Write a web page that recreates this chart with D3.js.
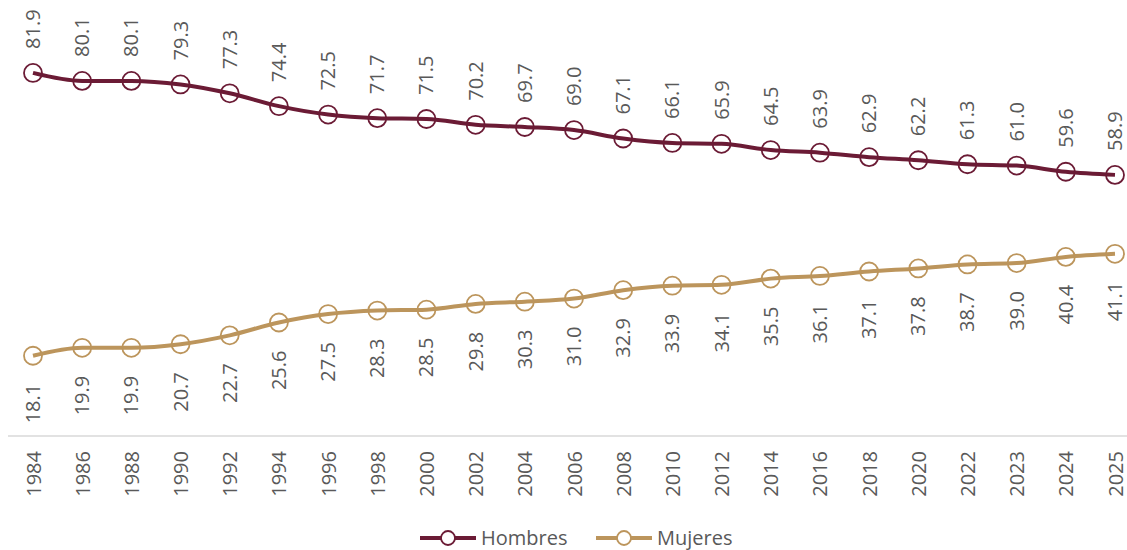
<!DOCTYPE html>
<html>
<head>
<meta charset="utf-8">
<script src="https://cdn.jsdelivr.net/npm/d3@7"></script>
<style>
  body { margin: 0; background: #fff; }
  svg { display: block; font-family: "Open Sans", sans-serif; }
</style>
</head>
<body>
<div id="chart"></div>
<script>
let years = ["1984", "1986", "1988", "1990", "1992", "1994", "1996", "1998", "2000", "2002", "2004", "2006",
    "2008", "2010", "2012", "2014", "2016", "2018", "2020", "2022", "2023", "2024", "2025"];
let hombres = [81.9, 80.1, 80.1, 79.3, 77.3, 74.4, 72.5, 71.7, 71.5, 70.2, 69.7, 69.0,
    67.1, 66.1, 65.9, 64.5, 63.9, 62.9, 62.2, 61.3, 61.0, 59.6, 58.9];
let mujeres = [18.1, 19.9, 19.9, 20.7, 22.7, 25.6, 27.5, 28.3, 28.5, 29.8, 30.3, 31.0,
    32.9, 33.9, 34.1, 35.5, 36.1, 37.1, 37.8, 38.7, 39.0, 40.4, 41.1];
let seriesNames = ["Hombres", "Mujeres"];
let colors = ["#6b1b35", "#bc955c"];

let width = 1127;
let height = 550;
let textColor = "#595959";

let svg = d3.select('#chart').append('svg')
    .attr('width', width).attr('height', height);

let xScale = d3.scalePoint()
    .domain(years)
    .range([33, 1115]);
let yScale = d3.scaleLinear()
    .domain([0, 90])
    .range([436, 37]);

// base line of the category axis
svg.append('line')
    .attr('x1', 8).attr('x2', width)
    .attr('y1', yScale(0)).attr('y2', yScale(0))
    .attr('stroke', '#d9d9d9').attr('stroke-width', 1.5);

// year labels, rotated
let xAxis = d3.axisBottom(xScale).tickSize(0).tickPadding(0);
let gx = svg.append('g')
    .attr('transform', 'translate(0,451)')
    .call(xAxis);
gx.select('.domain').remove();
gx.selectAll('text')
    .attr('transform', 'rotate(-90)')
    .attr('text-anchor', 'end')
    .attr('x', 0).attr('y', 0)
    .attr('dy', '0.35em')
    .attr('fill', textColor)
    .style('font-size', '20px')
    .style('font-family', '"Open Sans", sans-serif');

let line = d3.line()
    .x((d, i) => xScale(years[i]))
    .y(d => yScale(d))
    .curve(d3.curveMonotoneX);

let data = [hombres, mujeres];

data.forEach((vals, k) => {
    let g = svg.append('g');
    g.append('path')
        .datum(vals)
        .attr('d', line)
        .attr('fill', 'none')
        .attr('stroke', colors[k])
        .attr('stroke-width', 4)
        .attr('stroke-linejoin', 'round');
    g.selectAll('circle')
        .data(vals)
        .enter()
        .append('circle')
        .attr('cx', (d, i) => xScale(years[i]))
        .attr('cy', d => yScale(d))
        .attr('r', 9)
        .attr('fill', 'none')
        .attr('stroke', colors[k])
        .attr('stroke-width', 1.8);
    // value labels: above for Hombres, below for Mujeres
    g.selectAll('text')
        .data(vals)
        .enter()
        .append('text')
        .attr('transform', (d, i) => {
            let ly = k === 0 ? yScale(d) - 24 : yScale(d) + 28;
            return 'translate(' + xScale(years[i]) + ',' + ly + ') rotate(-90)';
        })
        .attr('text-anchor', k === 0 ? 'start' : 'end')
        .attr('dy', '0.35em')
        .attr('fill', textColor)
        .style('font-size', '20px')
        .text(d => d.toFixed(1));
});

// legend
let legendX = [420, 596];
seriesNames.forEach((name, k) => {
    let lg = svg.append('g').attr('transform', 'translate(' + legendX[k] + ',538)');
    lg.append('line')
        .attr('x1', 0).attr('x2', 56)
        .attr('stroke', colors[k]).attr('stroke-width', 4);
    lg.append('circle')
        .attr('cx', 28).attr('r', 7)
        .attr('fill', '#fff')
        .attr('stroke', colors[k]).attr('stroke-width', 1.8);
    lg.append('text')
        .attr('x', 61).attr('dy', '0.35em')
        .attr('fill', textColor)
        .style('font-size', '20px')
        .text(name);
});
</script>
</body>
</html>
